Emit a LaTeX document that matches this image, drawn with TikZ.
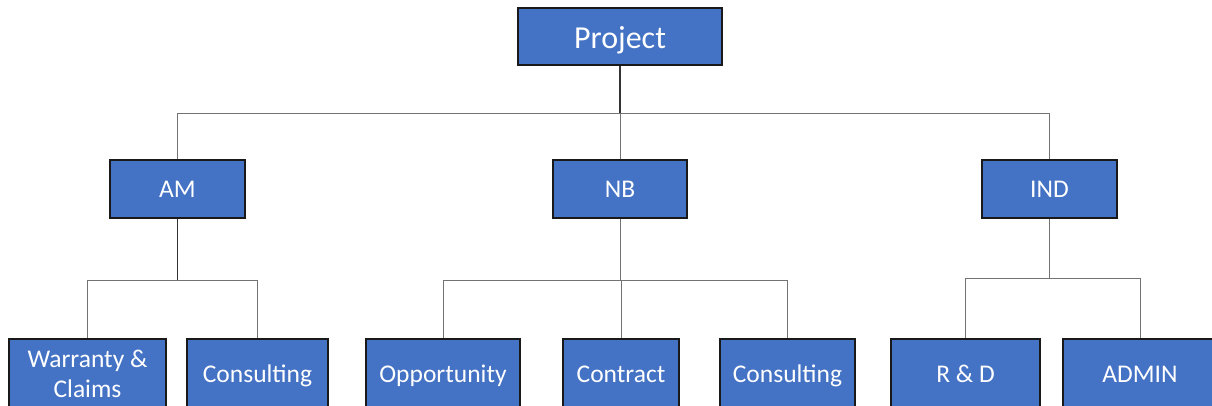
\documentclass[tikz,border=0pt]{standalone}
\usepackage{fontspec}
\setmainfont{Carlito}
\definecolor{boxblue}{HTML}{4472C4}
\begin{document}
\begin{tikzpicture}[x=1pt,y=-1pt,
  box/.style={draw=black!90, line width=1.5pt, fill=boxblue, text=white, inner sep=0pt,
    font=\fontsize{25.5}{30}\selectfont, align=center},
  one/.style={text height=20pt, text depth=3.5pt},
  stem/.style={draw=black!80, line width=1.4pt},
  branch/.style={draw=black!55, line width=1pt}]
\useasboundingbox (0,0) rectangle (1212,405);
\clip (0,0) rectangle (1212,405);
% nodes
\node[box, minimum width=204pt, minimum height=57pt, text height=26pt, text depth=3pt,
  font=\fontsize{32}{36}\selectfont] (proj) at (620,36.5) {Project};
\node[box, one, minimum width=135pt, minimum height=58pt] (am) at (177.5,189) {AM};
\node[box, one, minimum width=134pt, minimum height=58pt] (nb) at (620,189) {NB};
\node[box, one, minimum width=135pt, minimum height=58pt] (ind) at (1049.5,189) {IND};
\node[box, minimum width=157pt, minimum height=70pt] (wc) at (87.5,374) {Warranty \&\\Claims};
\node[box, one, minimum width=141pt, minimum height=70pt] (cs1) at (257.5,374) {Consulting};
\node[box, one, minimum width=154pt, minimum height=70pt] (opp) at (443,374) {Opportunity};
\node[box, one, minimum width=116pt, minimum height=70pt] (con) at (621,374) {Contract};
\node[box, one, minimum width=135pt, minimum height=70pt] (cs2) at (787.5,374) {Consulting};
\node[box, one, minimum width=149pt, minimum height=70pt] (rd) at (965.5,374) {R \& D};
\node[box, one, minimum width=154pt, minimum height=70pt] (adm) at (1140,374) {ADMIN};
% bus coordinates
\coordinate (b0) at (620,113);
\coordinate (b1) at (177.5,280);
\coordinate (b2) at (620,280);
\coordinate (b3) at (1049.5,278);
% connectors
\draw[stem] (proj.south) -- (b0);
\draw[branch] (b0) -| (am.north);
\draw[branch] (b0) -| (ind.north);
\draw[branch] (b0) -- (nb.north);
\draw[stem] (am.south) -- (b1);
\draw[branch] (b1) -| (wc.north);
\draw[branch] (b1) -| (cs1.north);
\draw[branch] (nb.south) -- (b2);
\draw[branch] (b2) -| (opp.north);
\draw[branch] (b2) -| (cs2.north);
\draw[branch] (b2) -| (con.north);
\draw[branch] (ind.south) -- (b3);
\draw[branch] (b3) -| (rd.north);
\draw[branch] (b3) -| (adm.north);
\end{tikzpicture}
\end{document}
